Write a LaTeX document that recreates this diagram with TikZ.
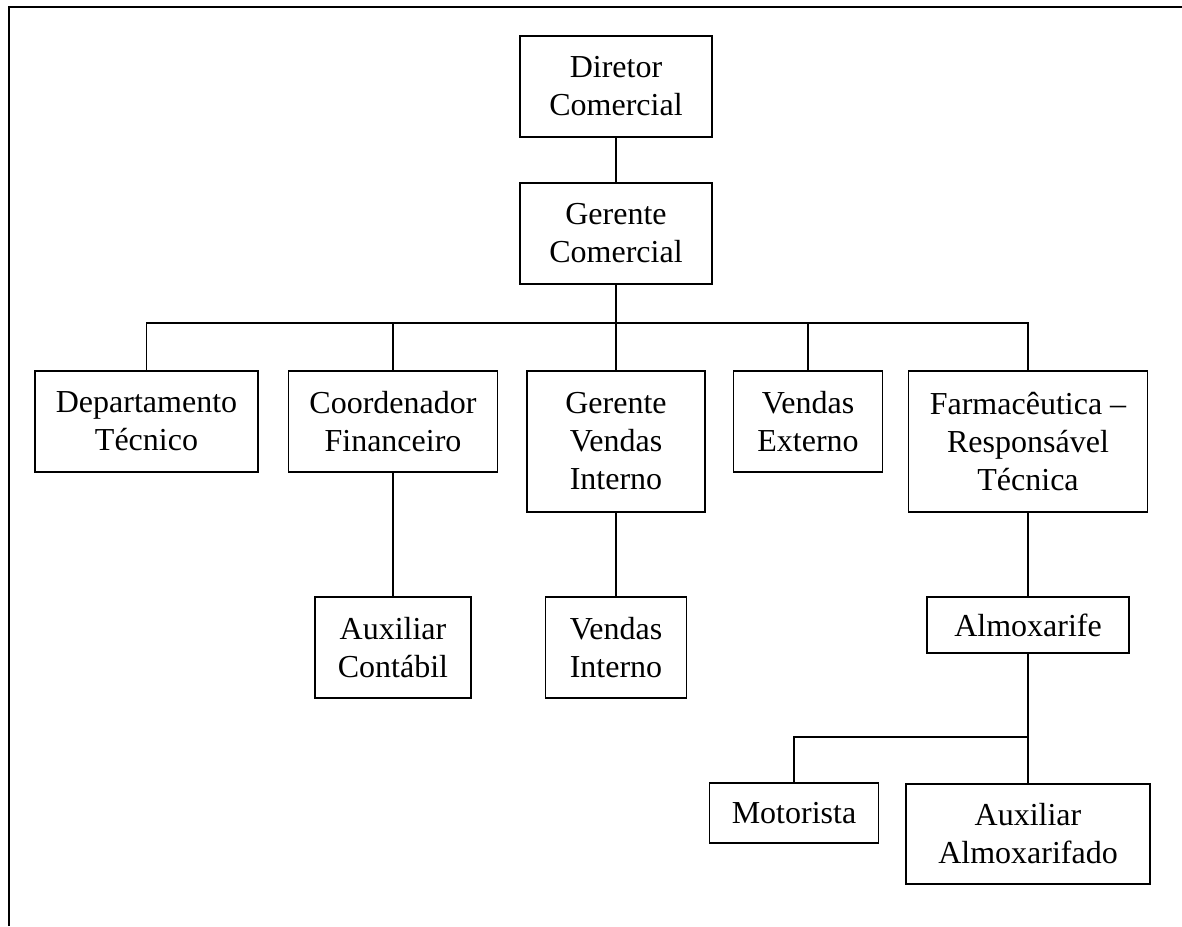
\documentclass[tikz,border=0pt]{standalone}
\usepackage{fontspec}
\setmainfont{Liberation Serif}
\usepackage{tikz}

\begin{document}
\begin{tikzpicture}[x=0.5pt,y=-0.5pt,
  box/.style={draw, line width=0.9pt, align=center, inner sep=0pt, font=\fontsize{16}{19}\selectfont},
  link/.style={line width=0.75pt}]
\useasboundingbox (0,0) rectangle (1182,926);
\draw[black, line width=1.2pt] (9,926) -- (9,7) -- (1182,7);

\node[box, minimum width=96pt, minimum height=50.5pt] (dir) at (616,86.5) {Diretor\\Comercial};
\node[box, minimum width=96pt, minimum height=50.5pt] (gcom) at (616,233.5) {Gerente\\Comercial};

\node[box, minimum width=111.5pt, minimum height=50.5pt] (dep) at (146.5,421.5) {Departamento\\Técnico};
\node[box, minimum width=104.5pt, minimum height=50.5pt] (coord) at (393,421.5) {Coordenador\\Financeiro};
\node[box, minimum width=89pt, minimum height=70.5pt] (gvi) at (616,441.5) {Gerente\\Vendas\\Interno};
\node[box, minimum width=74.5pt, minimum height=50.5pt] (vext) at (808,421.5) {Vendas\\Externo};
\node[box, minimum width=119.5pt, minimum height=70.5pt] (farm) at (1028,441.5) {Farmacêutica –\\Responsável\\Técnica};

\node[box, minimum width=78pt, minimum height=50.5pt] (auxc) at (393,647.5) {Auxiliar\\Contábil};
\node[box, minimum width=70.5pt, minimum height=50.5pt] (vint) at (616,647.5) {Vendas\\Interno};
\node[box, minimum width=101pt, minimum height=28pt] (almox) at (1028,625) {Almoxarife};

\node[box, minimum width=84.5pt, minimum height=30pt] (mot) at (794,813) {Motorista};
\node[box, minimum width=122pt, minimum height=50pt] (auxalm) at (1028,834) {Auxiliar\\Almoxarifado};

\coordinate (bus) at (616,323);
\coordinate (bus2) at (1028,737);

\draw[link] (dir) -- (gcom);
\draw[link] (gcom) -- (gvi);
\draw[link] (dep.north) |- (bus) -| (farm.north);
\draw[link] (coord.north) -- (coord.north |- bus);
\draw[link] (vext.north) -- (vext.north |- bus);
\draw[link] (coord) -- (auxc);
\draw[link] (gvi) -- (vint);
\draw[link] (farm) -- (almox);
\draw[link] (almox) -- (auxalm);
\draw[link] (mot.north) |- (bus2);

\end{tikzpicture}
\end{document}
